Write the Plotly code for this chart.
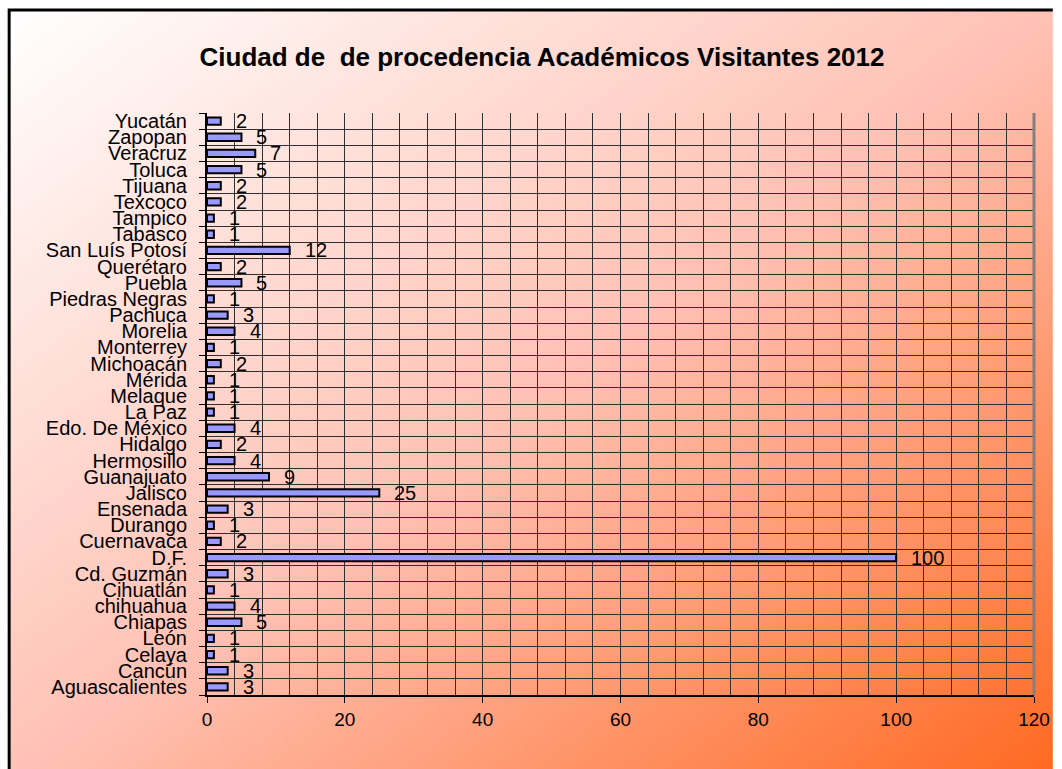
import base64
import plotly.graph_objects as go

# ---- data (bottom to top, as drawn) ----
cities = [
    "Aguascalientes", "Cancún", "Celaya", "León", "Chiapas", "chihuahua",
    "Cihuatlán", "Cd. Guzmán", "D.F.", "Cuernavaca", "Durango", "Ensenada",
    "Jalisco", "Guanajuato", "Hermosillo", "Hidalgo", "Edo. De México",
    "La Paz", "Melaque", "Mérida", "Michoacán", "Monterrey", "Morelia",
    "Pachuca", "Piedras Negras", "Puebla", "Querétaro", "San Luís Potosí",
    "Tabasco", "Tampico", "Texcoco", "Tijuana", "Toluca", "Veracruz",
    "Zapopan", "Yucatán",
]
visitors = [
    3, 3, 1, 1, 5, 4,
    1, 3, 100, 2, 1, 3,
    25, 9, 4, 2, 4,
    1, 1, 1, 2, 1, 4,
    3, 1, 5, 2, 12,
    1, 1, 2, 2, 5, 7,
    5, 2,
]
title_text = "Ciudad de  de procedencia Académicos Visitantes 2012"
x_ticks = [0, 20, 40, 60, 80, 100, 120]

W, H = 1062, 769
L, R, T, B = 207, 19, 113, 74
PW, PH = W - L - R, H - T - B

# background gradient + frame as SVG image
svg = f'''<svg xmlns="http://www.w3.org/2000/svg" width="{W}" height="{H}" viewBox="0 0 {W} {H}" preserveAspectRatio="none">
<defs><linearGradient id="g" x1="0" y1="0" x2="1" y2="1">
<stop offset="0" stop-color="#ffffff"/>
<stop offset="0.5" stop-color="#ffc0b2"/>
<stop offset="1" stop-color="#ff6418"/>
</linearGradient></defs>
<rect x="0" y="0" width="{W}" height="{H}" fill="#ffffff"/>
<rect x="7" y="10" width="{W + 20}" height="{H + 20}" fill="url(#g)" stroke="#000" stroke-width="3"/>
</svg>'''
src = "data:image/svg+xml;base64," + base64.b64encode(svg.encode()).decode()

ypos = list(range(len(cities)))
FONT = "Liberation Sans, Arial"

fig = go.Figure()
fig.add_trace(go.Bar(
    x=visitors, y=ypos, orientation="h", width=0.45,
    marker=dict(color="#9999ff", line=dict(color="#000000", width=2)),
    hoverinfo="skip",
))

for v, y in zip(visitors, ypos):
    fig.add_annotation(x=v, y=y, text=str(v), showarrow=False,
                       xanchor="left", yanchor="middle", xshift=13,
                       font=dict(family=FONT, size=20, color="#000"))

fig.add_layout_image(dict(
    source=src, xref="paper", yref="paper",
    x=-L / PW, y=1 + T / PH, sizex=W / PW, sizey=H / PH,
    xanchor="left", yanchor="top", sizing="stretch", layer="below",
))

fig.add_shape(type="line", xref="paper", yref="paper", x0=1, x1=1, y0=0, y1=1,
              line=dict(color="#808080", width=3))

fig.update_layout(
    width=W, height=H,
    margin=dict(l=L, r=R, t=T, b=B),
    paper_bgcolor="#ffffff",
    plot_bgcolor="#c0c0c0",
    showlegend=False,
    title=dict(text=title_text, x=542 / W, xanchor="center",
               y=1 - 57 / H, yanchor="middle",
               font=dict(family=FONT, size=26, color="#000", weight="bold")),
    font=dict(family=FONT, color="#000"),
    xaxis=dict(range=[0, 120], tickvals=x_ticks, ticks="outside", ticklen=6,
               tickcolor="#000", showline=True, linecolor="#000", linewidth=2,
               showgrid=True, gridcolor="#303030", gridwidth=1, zeroline=False,
               tickfont=dict(size=19),
               minor=dict(dtick=4, tick0=0, showgrid=True, gridcolor="#303030",
                          gridwidth=1, ticks="")),
    yaxis=dict(range=[-0.5, len(cities) - 0.5], tickvals=ypos, ticktext=cities,
               ticks="", showgrid=False, zeroline=False, showline=True,
               linecolor="#000", linewidth=2, tickfont=dict(size=20),
               ticklabelstandoff=14,
               minor=dict(tickvals=[i - 0.5 for i in range(len(cities) + 1)],
                          ticks="outside", ticklen=6, tickcolor="#000",
                          showgrid=True, gridcolor="#303030", gridwidth=1)),
)

fig.write_html("out.html",
               config={"displayModeBar": False},
               post_script="document.body.style.margin='0px';document.body.style.overflow='hidden';")
